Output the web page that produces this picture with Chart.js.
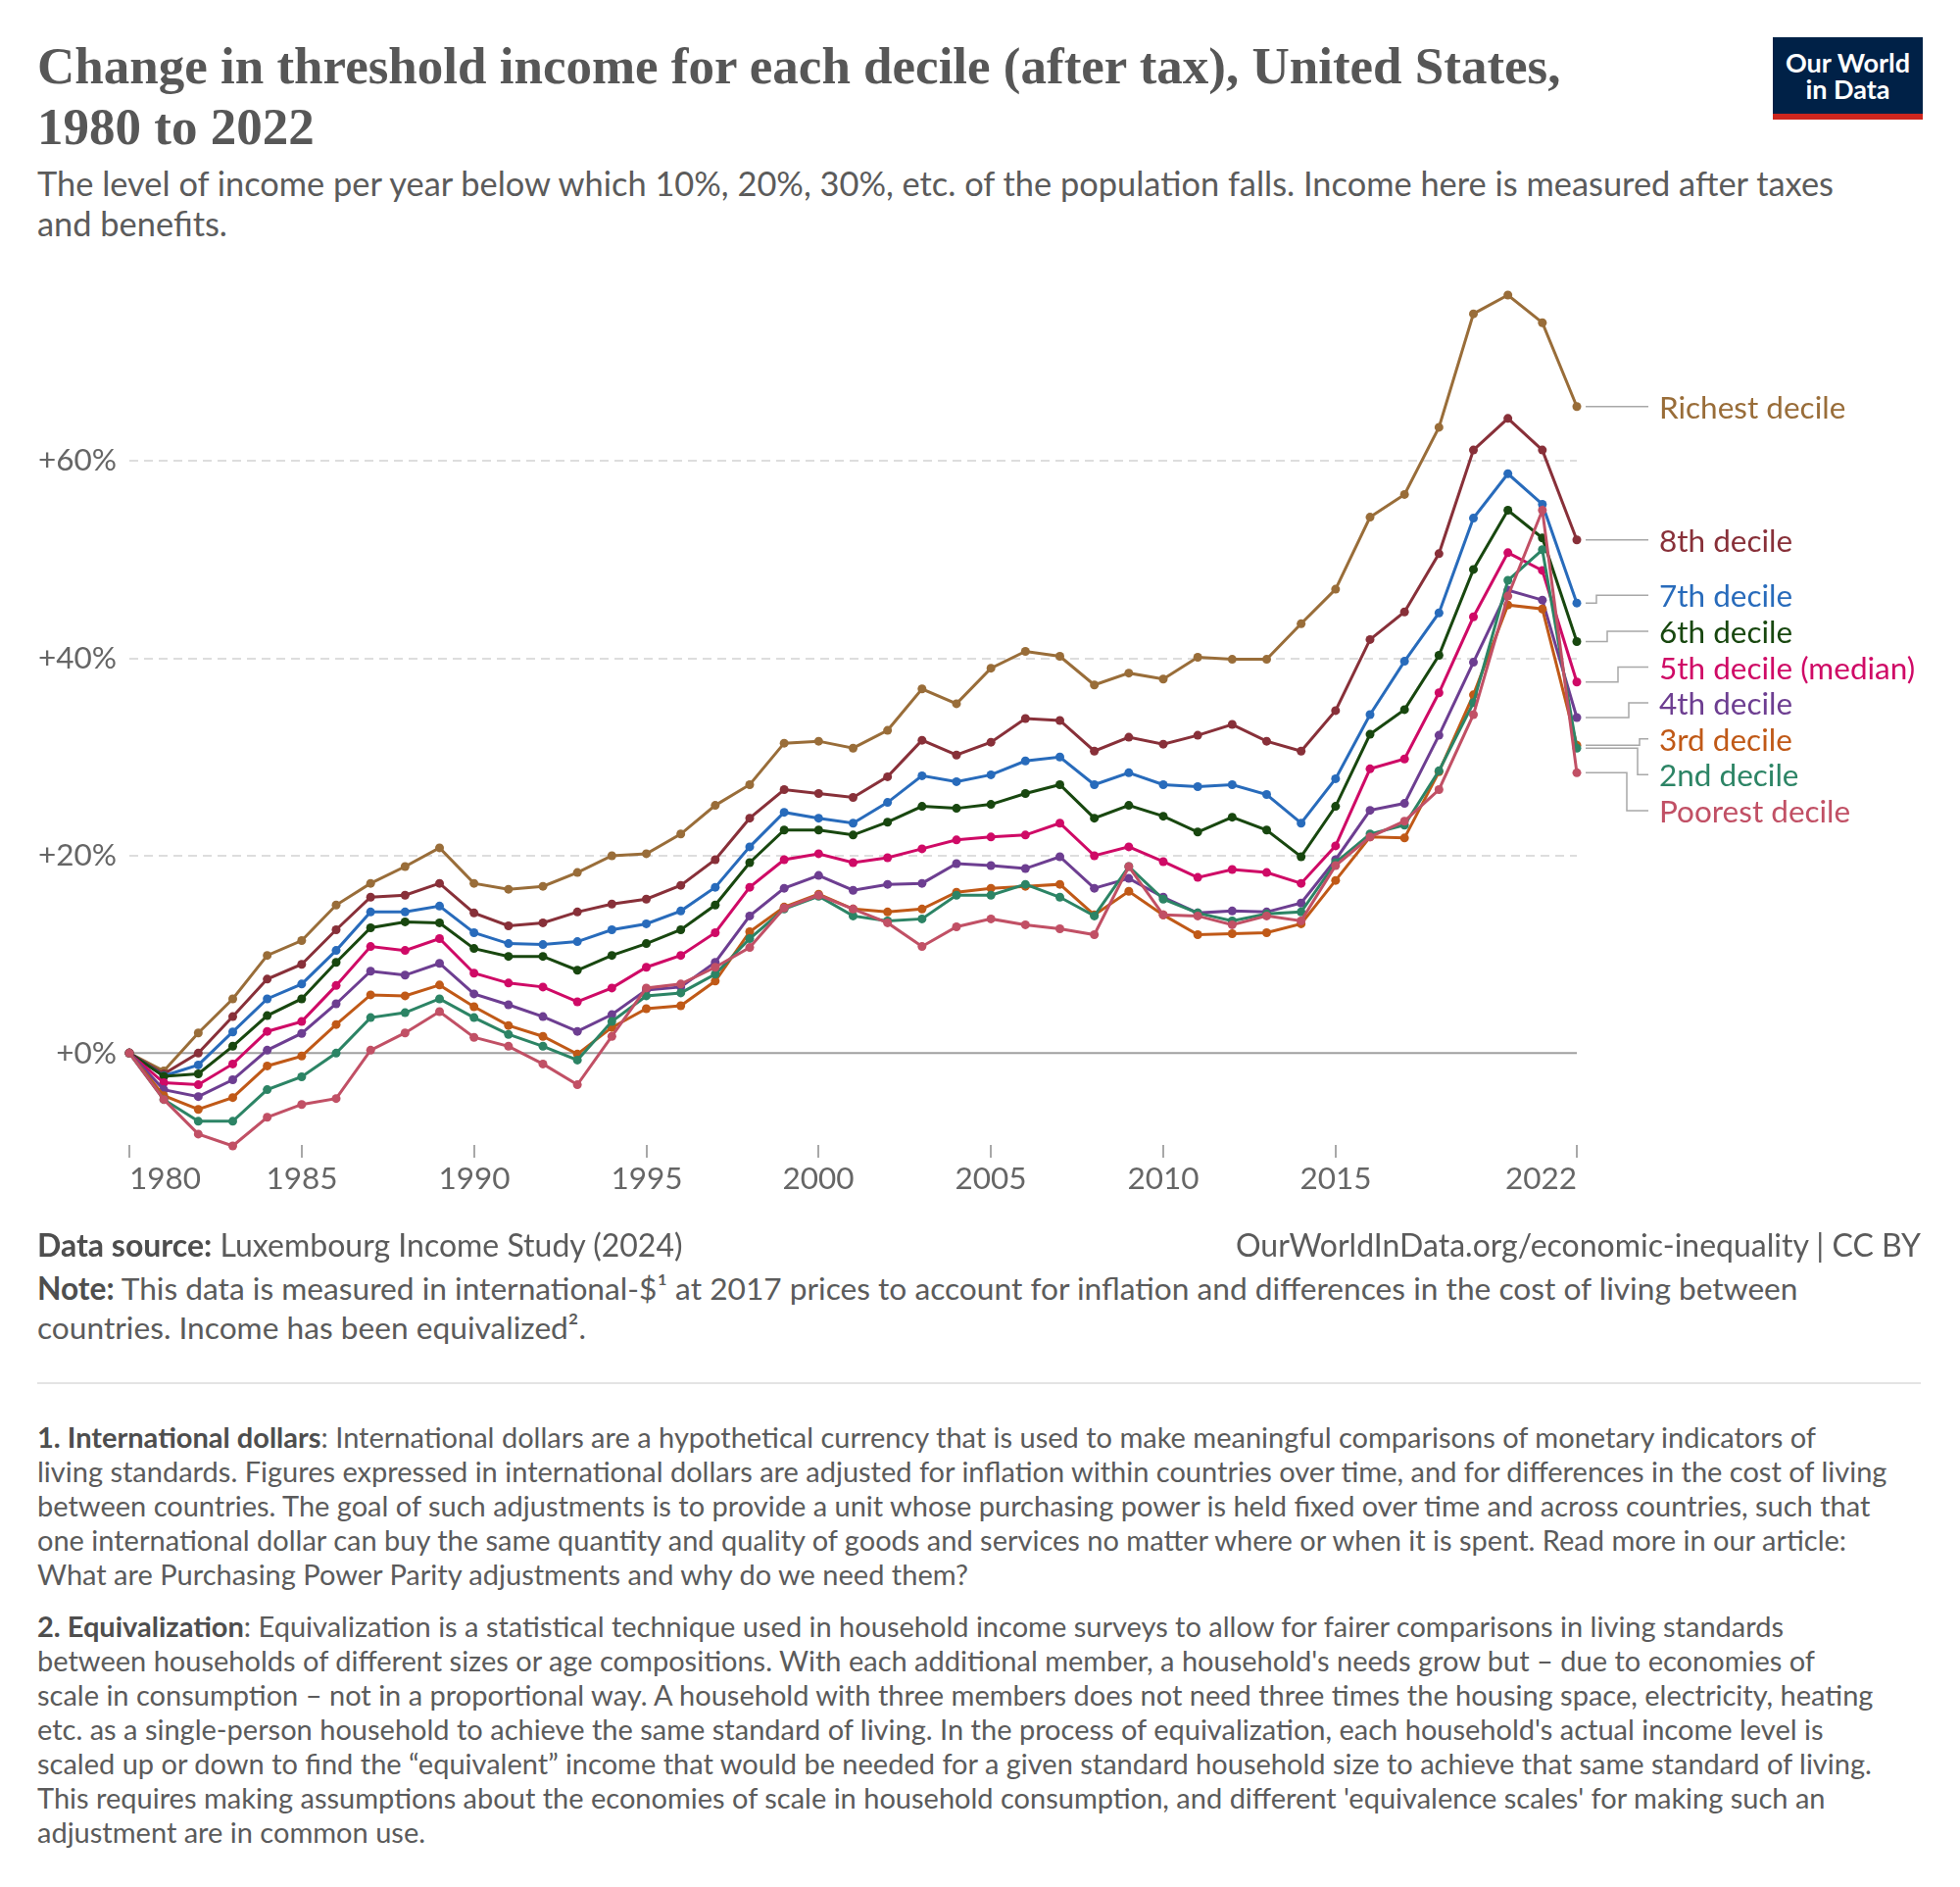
<!DOCTYPE html>
<html>
<head>
<meta charset="utf-8">
<script src="https://cdn.jsdelivr.net/npm/chart.js@4.4.1/dist/chart.umd.min.js"></script>
<style>
  body { margin: 0; width: 2000px; height: 1925px; background: #fff; position: relative; font-family: Lato, sans-serif; color: #5b5b5b; }
  .abs { position: absolute; }
  #title { left: 38px; top: 36px; font-family: "Liberation Serif", serif; font-weight: 700; font-size: 53px; line-height: 62px; color: #575757; white-space: nowrap; }
  #subtitle { left: 38px; top: 166px; font-size: 34.4px; line-height: 41px; color: #5b5b5b; white-space: nowrap; }
  #logo { left: 1809px; top: 38px; width: 153px; height: 84px; background: #002147; }
  #logo .bar { position: absolute; left: 0; bottom: 0; width: 100%; height: 6px; background: #ce261e; }
  #logo .txt { position: absolute; left: 0; top: 12px; width: 100%; text-align: center; color: #fff; font-weight: 700; font-size: 27px; line-height: 27px; }
  #chartBox { left: 0; top: 260px; width: 2000px; height: 1000px; }
  .foot { font-size: 32px; line-height: 40px; color: #5b5b5b; white-space: nowrap; }
  .foot b { color: #4e4e4e; }
  #source { left: 38px; top: 1250px; }
  #url { right: 40px; top: 1250px; }
  #note { left: 38px; top: 1294px; font-size: 31.7px; }
  #sep { left: 38px; top: 1410px; width: 1922px; height: 2px; background: #e4e4e4; }
  .fn { left: 38px; font-size: 29px; line-height: 35px; color: #5b5b5b; white-space: nowrap; }
  .fn b { color: #4e4e4e; }
  #fn1 { top: 1448px; }
  #fn2 { top: 1641px; }
</style>
</head>
<body>
<div id="title" class="abs">Change in threshold income for each decile (after tax), United States,<br>1980 to 2022</div>
<div id="subtitle" class="abs">The level of income per year below which 10%, 20%, 30%, etc. of the population falls. Income here is measured after taxes<br>and benefits.</div>
<div id="logo" class="abs"><div class="txt">Our World<br>in Data</div><div class="bar"></div></div>
<div id="chartBox" class="abs"><canvas id="myChart" width="2000" height="1000"></canvas></div>
<div id="source" class="abs foot"><b>Data source:</b> Luxembourg Income Study (2024)</div>
<div id="url" class="abs foot">OurWorldInData.org/economic-inequality | CC BY</div>
<div id="note" class="abs foot"><b>Note:</b> This data is measured in international-$¹ at 2017 prices to account for inflation and differences in the cost of living between<br>countries. Income has been equivalized².</div>
<div id="sep" class="abs"></div>
<div id="fn1" class="abs fn"><b>1. International dollars</b>: International dollars are a hypothetical currency that is used to make meaningful comparisons of monetary indicators of<br>living standards. Figures expressed in international dollars are adjusted for inflation within countries over time, and for differences in the cost of living<br>between countries. The goal of such adjustments is to provide a unit whose purchasing power is held fixed over time and across countries, such that<br>one international dollar can buy the same quantity and quality of goods and services no matter where or when it is spent. Read more in our article:<br>What are Purchasing Power Parity adjustments and why do we need them?</div>
<div id="fn2" class="abs fn"><b>2. Equivalization</b>: Equivalization is a statistical technique used in household income surveys to allow for fairer comparisons in living standards<br>between households of different sizes or age compositions. With each additional member, a household's needs grow but – due to economies of<br>scale in consumption – not in a proportional way. A household with three members does not need three times the housing space, electricity, heating<br>etc. as a single-person household to achieve the same standard of living. In the process of equivalization, each household's actual income level is<br>scaled up or down to find the “equivalent” income that would be needed for a given standard household size to achieve that same standard of living.<br>This requires making assumptions about the economies of scale in household consumption, and different 'equivalence scales' for making such an<br>adjustment are in common use.</div>

<script>
let years = [];
for (let y = 1980; y <= 2022; y++) years.push(y);

let xTicks = [1980, 1985, 1990, 1995, 2000, 2005, 2010, 2015, 2022];
let yTicks = [0, 20, 40, 60];

let richest = [0, -1.8, 2.05, 5.5, 9.9, 11.4, 15.0, 17.2, 18.9, 20.8, 17.2, 16.6, 16.9, 18.3, 20.0, 20.2, 22.2, 25.1, 27.2, 31.4, 31.6, 30.9, 32.7, 36.9, 35.4, 39.0, 40.7, 40.2, 37.3, 38.5, 37.9, 40.1, 39.9, 39.9, 43.5, 47.0, 54.3, 56.6, 63.4, 74.9, 76.8, 74.0, 65.5];
let d8 = [0, -2.1, 0, 3.7, 7.5, 9.0, 12.5, 15.8, 16.0, 17.2, 14.2, 12.9, 13.2, 14.3, 15.1, 15.6, 17.0, 19.6, 23.8, 26.7, 26.3, 25.9, 28.0, 31.7, 30.2, 31.5, 33.9, 33.7, 30.6, 32.0, 31.3, 32.2, 33.3, 31.6, 30.6, 34.7, 41.9, 44.7, 50.6, 61.1, 64.3, 61.1, 52.0];
let d7 = [0, -2.3, -1.2, 2.15, 5.5, 7.0, 10.4, 14.3, 14.3, 14.9, 12.2, 11.1, 11.0, 11.3, 12.5, 13.1, 14.4, 16.8, 20.9, 24.4, 23.8, 23.3, 25.4, 28.1, 27.5, 28.2, 29.6, 30.0, 27.2, 28.4, 27.2, 27.0, 27.2, 26.2, 23.3, 27.8, 34.3, 39.7, 44.6, 54.2, 58.7, 55.6, 45.6];
let d6 = [0, -2.35, -2.1, 0.7, 3.8, 5.5, 9.2, 12.7, 13.3, 13.2, 10.6, 9.8, 9.8, 8.4, 9.9, 11.1, 12.5, 15.0, 19.3, 22.6, 22.6, 22.1, 23.4, 25.0, 24.8, 25.2, 26.3, 27.2, 23.8, 25.1, 24.0, 22.4, 23.9, 22.6, 19.9, 25.0, 32.3, 34.8, 40.3, 49.0, 55.0, 52.2, 41.7];
let d5 = [0, -3.0, -3.2, -1.1, 2.2, 3.2, 6.85, 10.8, 10.4, 11.6, 8.1, 7.1, 6.7, 5.2, 6.6, 8.7, 9.9, 12.2, 16.8, 19.6, 20.2, 19.3, 19.8, 20.7, 21.6, 21.9, 22.1, 23.3, 20.0, 20.9, 19.4, 17.8, 18.6, 18.3, 17.2, 21.0, 28.8, 29.8, 36.5, 44.2, 50.7, 48.9, 37.6];
let d4 = [0, -3.7, -4.4, -2.7, 0.3, 2.0, 5.0, 8.3, 7.9, 9.1, 6.0, 4.9, 3.7, 2.2, 3.9, 6.4, 6.7, 9.2, 13.9, 16.7, 18.0, 16.5, 17.1, 17.2, 19.2, 19.0, 18.7, 19.9, 16.7, 17.7, 15.8, 14.2, 14.4, 14.3, 15.2, 19.6, 24.6, 25.3, 32.2, 39.6, 46.9, 45.9, 34.0];
let d3 = [0, -4.3, -5.7, -4.5, -1.3, -0.3, 2.9, 5.9, 5.8, 6.9, 4.7, 2.8, 1.7, -0.1, 2.6, 4.5, 4.8, 7.3, 12.3, 14.8, 16.1, 14.6, 14.3, 14.6, 16.3, 16.7, 16.9, 17.1, 14.0, 16.4, 14.0, 12.0, 12.1, 12.2, 13.1, 17.5, 21.9, 21.8, 28.5, 36.3, 45.4, 45.0, 31.2];
let d2 = [0, -4.7, -6.9, -6.9, -3.7, -2.4, 0, 3.6, 4.1, 5.5, 3.6, 1.9, 0.7, -0.7, 3.2, 5.8, 6.1, 8.0, 11.6, 14.6, 15.9, 13.9, 13.4, 13.6, 16.0, 16.0, 17.1, 15.8, 13.9, 18.9, 15.6, 14.2, 13.4, 14.1, 14.3, 19.3, 22.2, 23.1, 28.6, 35.5, 47.9, 51.0, 30.9];
let poorest = [0, -4.7, -8.2, -9.4, -6.5, -5.2, -4.6, 0.3, 2.05, 4.2, 1.6, 0.7, -1.1, -3.2, 1.7, 6.6, 7.0, 8.7, 10.7, 14.7, 16.0, 14.6, 13.2, 10.8, 12.8, 13.6, 13.0, 12.6, 12.0, 18.9, 14.0, 13.9, 13.0, 13.9, 13.4, 19.0, 21.9, 23.5, 26.7, 34.3, 46.3, 55.0, 28.4];

// first entry is drawn on top
let names = ["Poorest decile", "2nd decile", "3rd decile", "4th decile", "5th decile (median)", "6th decile", "7th decile", "8th decile", "Richest decile"];
let series = [poorest, d2, d3, d4, d5, d6, d7, d8, richest];
let colors = ["#C15065", "#2C8465", "#C05917", "#6D3E91", "#CF0A66", "#18470F", "#286BBB", "#883039", "#996D39"];

let allValues = series.flat();
let yMin = Math.min(...allValues);
let yMax = Math.max(...allValues);

let datasets = series.map((s, i) => ({
  label: names[i],
  data: s.map((v, j) => ({ x: years[j], y: v })),
  borderColor: colors[i],
  backgroundColor: colors[i],
  pointBackgroundColor: colors[i],
  borderWidth: 3,
  pointRadius: 4.5,
  pointBorderWidth: 0,
  pointHoverRadius: 4.5,
  tension: 0,
  clip: false,
}));

let axisDecor = {
  id: "axisDecor",
  beforeDatasetsDraw(chart) {
    let ctx = chart.ctx;
    let area = chart.chartArea;
    let y0 = chart.scales.y.getPixelForValue(0);
    ctx.save();
    ctx.strokeStyle = "#a0a0a0";
    ctx.lineWidth = 2;
    ctx.beginPath();
    ctx.moveTo(area.left, y0);
    ctx.lineTo(area.right, y0);
    ctx.stroke();
    ctx.restore();
  },
  afterDraw(chart) {
    let ctx = chart.ctx;
    let area = chart.chartArea;
    let xs = chart.scales.x;
    ctx.save();
    ctx.strokeStyle = "#a8a8a8";
    ctx.lineWidth = 2;
    ctx.fillStyle = "#666";
    ctx.font = "31.5px Lato";
    ctx.textBaseline = "middle";
    xTicks.forEach((t, i) => {
      let px = Math.round(xs.getPixelForValue(t));
      ctx.beginPath();
      ctx.moveTo(px, area.bottom - 1);
      ctx.lineTo(px, area.bottom + 12);
      ctx.stroke();
      ctx.textAlign = i === 0 ? "left" : i === xTicks.length - 1 ? "right" : "center";
      ctx.fillText(String(t), px, area.bottom + 34);
    });
    ctx.restore();
  },
};

let lineLabels = {
  id: "lineLabels",
  afterDatasetsDraw(chart) {
    let ctx = chart.ctx;
    let gap = 36.6;
    let items = chart.data.datasets.map((ds, i) => {
      let pts = chart.getDatasetMeta(i).data;
      let p = pts[pts.length - 1];
      return { name: ds.label, color: ds.borderColor, x: p.x, target: p.y };
    });
    items.sort((a, b) => a.target - b.target);
    let groups = items.map((it) => ({ items: [it] }));
    let place = (g) => {
      let mean = g.items.reduce((s, it) => s + it.target, 0) / g.items.length;
      g.top = mean - ((g.items.length - 1) * gap) / 2;
      g.bottom = g.top + (g.items.length - 1) * gap;
    };
    groups.forEach(place);
    let merged = true;
    while (merged) {
      merged = false;
      for (let i = 0; i < groups.length - 1; i++) {
        if (groups[i].bottom + gap > groups[i + 1].top) {
          groups[i].items = groups[i].items.concat(groups[i + 1].items);
          groups.splice(i + 1, 1);
          place(groups[i]);
          merged = true;
          break;
        }
      }
    }
    groups.forEach((g) => g.items.forEach((it, k) => (it.ly = g.top + k * gap + (g.items.length > 1 ? 1.5 : 0))));

    let ups = items.filter((it) => it.ly < it.target - 1);
    let downs = items.filter((it) => it.ly > it.target + 1);
    ctx.save();
    ctx.font = "31.5px Lato";
    ctx.textBaseline = "middle";
    ctx.textAlign = "left";
    items.forEach((it) => {
      let x0 = it.x + 9;
      let x1 = it.x + 73;
      let ex = null;
      if (ups.includes(it)) ex = x0 + 11 * (ups.indexOf(it) + 1);
      if (downs.includes(it)) ex = x1 - 11 * (downs.indexOf(it) + 1);
      ctx.strokeStyle = "#a8a8a8";
      ctx.lineWidth = 1.5;
      ctx.beginPath();
      ctx.moveTo(x0, it.target);
      if (ex !== null) {
        ctx.lineTo(ex, it.target);
        ctx.lineTo(ex, it.ly);
      }
      ctx.lineTo(x1, it.ly);
      ctx.stroke();
      ctx.fillStyle = it.color;
      ctx.fillText(it.name, it.x + 84, it.ly + 2);
    });
    ctx.restore();
  },
};

let thresholdChart = new Chart(document.getElementById("myChart"), {
  type: "line",
  data: { datasets: datasets },
  plugins: [axisDecor, lineLabels],
  options: {
    responsive: false,
    animation: false,
    devicePixelRatio: 1,
    layout: { padding: { top: 41, right: 391, bottom: 0, left: 0 } },
    plugins: { legend: { display: false }, tooltip: { enabled: false } },
    scales: {
      x: {
        type: "linear",
        min: 1980,
        max: 2022,
        grid: { display: false },
        border: { display: false },
        ticks: { display: false },
        afterFit(scale) { scale.height = 91; },
      },
      y: {
        min: yMin,
        max: yMax,
        afterBuildTicks(scale) { scale.ticks = yTicks.map((v) => ({ value: v })); },
        afterFit(scale) { scale.width = 132; },
        border: { display: false, dash: [9, 6] },
        grid: {
          drawTicks: false,
          lineWidth: 2,
          color: (c) => (c.tick && c.tick.value === 0 ? "rgba(0,0,0,0)" : "#dddddd"),
        },
        ticks: {
          padding: 13,
          color: "#666",
          font: { family: "Lato", size: 31.5 },
          callback: (v) => "+" + v + "%",
        },
      },
    },
  },
});
</script>
</body>
</html>
